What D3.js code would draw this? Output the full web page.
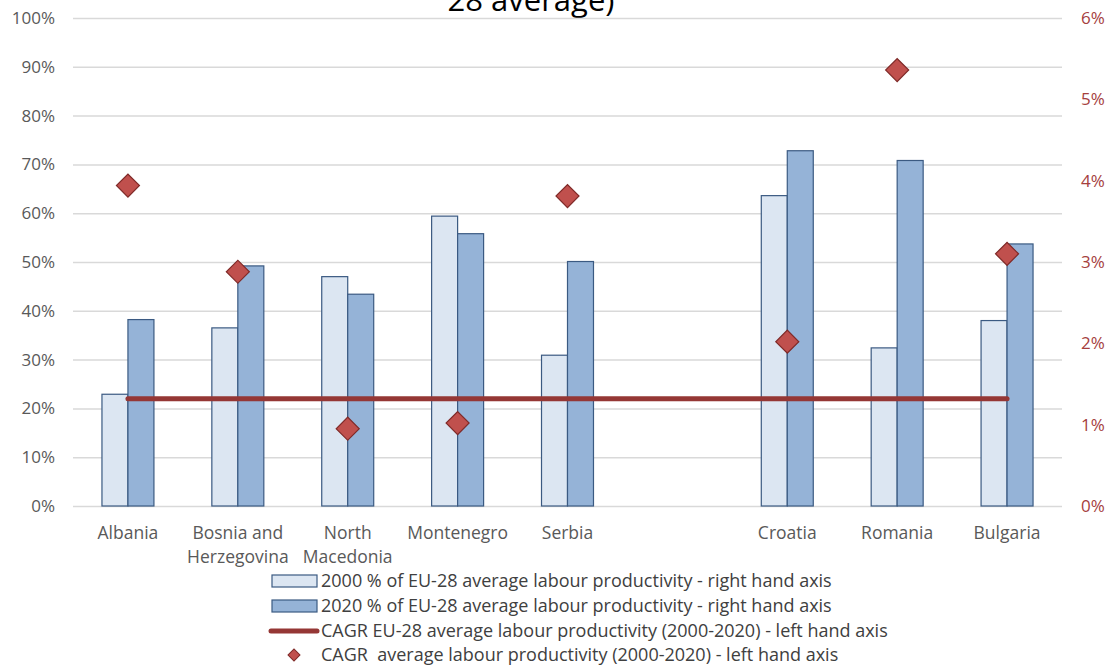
<!DOCTYPE html>
<html>
<head>
<meta charset="utf-8">
<script src="https://cdn.jsdelivr.net/npm/d3@7/dist/d3.min.js"></script>
<style>
  html, body { margin: 0; padding: 0; background: #fff; }
  svg { display: block; font-family: "Open Sans", "Liberation Sans", sans-serif; }
</style>
</head>
<body>
<svg id="chart" width="1107" height="665"></svg>
<script>
// Countries (one empty slot separates the candidate countries from EU members)
const categories = ["Albania", "Bosnia and Herzegovina", "North Macedonia", "Montenegro", "Serbia", "", "Croatia", "Romania", "Bulgaria"];

// Labour productivity as share of EU-28 average
const share2000 = [0.229, 0.365, 0.470, 0.594, 0.309, null, 0.636, 0.324, 0.380];
const share2020 = [0.382, 0.492, 0.434, 0.558, 0.501, null, 0.728, 0.708, 0.537];

// Compound annual growth rate of labour productivity, 2000-2020
const cagrCountry = [0.0394, 0.0288, 0.0095, 0.0102, 0.0381, null, 0.0202, 0.0536, 0.0310];
const cagrEU28 = [0.0132, 0.0132, 0.0132, 0.0132, 0.0132, 0.0132, 0.0132, 0.0132, 0.0132];

const leftTicks = [0, 0.1, 0.2, 0.3, 0.4, 0.5, 0.6, 0.7, 0.8, 0.9, 1.0];
const rightTicks = [0, 0.01, 0.02, 0.03, 0.04, 0.05, 0.06];

const legendLabels = [
  "2000 % of EU-28 average labour productivity - right hand axis",
  "2020 % of EU-28 average labour productivity - right hand axis",
  "CAGR EU-28 average labour productivity (2000-2020) - left hand axis",
  "CAGR  average labour productivity (2000-2020) - left hand axis"
];

const colors = {
  fill2000: "#DCE6F2", fill2020: "#95B3D7", barStroke: "#3B5A82",
  line: "#953735", diamond: "#C0504D", diamondStroke: "#7F2A28",
  grid: "#D9D9D9", leftText: "#595959", rightText: "#A5403D", text: "#404040"
};

const svg = d3.select("#chart");
const plot = { left: 73, right: 1062, top: 18, bottom: 506 };

const x = d3.scaleBand().domain(d3.range(categories.length))
  .range([plot.left, plot.right]).paddingInner(0.527).paddingOuter(0.2635);
const xSeries = d3.scaleBand().domain([0, 1]).range([0, x.bandwidth()]);
const xCenter = i => x(i) + x.bandwidth() / 2;

const yLeft = d3.scaleLinear().domain([0, 1]).range([plot.bottom, plot.top]);
const yRight = d3.scaleLinear().domain([0, 0.06]).range([plot.bottom, plot.top]);

// Title (second line)
svg.append("text")
  .attr("x", 531).attr("y", 11)
  .attr("text-anchor", "middle")
  .attr("font-size", 31).attr("fill", "#000")
  .text("28 average)");

// Gridlines + left axis
const leftAxis = svg.append("g")
  .attr("transform", `translate(${plot.left},0)`)
  .call(d3.axisLeft(yLeft).tickValues(leftTicks).tickFormat(d3.format(".0%"))
    .tickSize(-(plot.right - plot.left)).tickPadding(18));
leftAxis.select(".domain").remove();
leftAxis.selectAll(".tick line").attr("stroke", colors.grid).attr("stroke-width", 1.5);
leftAxis.selectAll(".tick text").attr("fill", colors.leftText)
  .attr("font-size", 17).attr("font-family", "Open Sans, sans-serif");

// Right axis
const rightAxis = svg.append("g")
  .attr("transform", `translate(${plot.right},0)`)
  .call(d3.axisRight(yRight).tickValues(rightTicks).tickFormat(d3.format(".0%"))
    .tickSize(0).tickPadding(19));
rightAxis.select(".domain").remove();
rightAxis.selectAll(".tick text").attr("fill", colors.rightText)
  .attr("font-size", 17).attr("font-family", "Open Sans, sans-serif");

// Bars
const barData = [];
categories.forEach((c, i) => {
  if (share2000[i] != null) barData.push({ i, s: 0, v: share2000[i] });
  if (share2020[i] != null) barData.push({ i, s: 1, v: share2020[i] });
});
svg.append("g").selectAll("rect").data(barData).join("rect")
  .attr("x", d => x(d.i) + xSeries(d.s))
  .attr("y", d => yLeft(d.v))
  .attr("width", xSeries.bandwidth())
  .attr("height", d => plot.bottom - yLeft(d.v))
  .attr("fill", d => d.s === 0 ? colors.fill2000 : colors.fill2020)
  .attr("stroke", colors.barStroke).attr("stroke-width", 1.2);

// EU-28 CAGR line
svg.append("path")
  .datum(cagrEU28)
  .attr("fill", "none").attr("stroke", colors.line)
  .attr("stroke-width", 5).attr("stroke-linecap", "round")
  .attr("d", d3.line().x((d, i) => xCenter(i)).y(d => yRight(d)));

// Country CAGR diamonds
const diamond = d3.symbol().type(d3.symbolSquare).size(265);
svg.append("g").selectAll("path")
  .data(cagrCountry.map((v, i) => ({ i, v })).filter(d => d.v != null))
  .join("path")
  .attr("d", diamond)
  .attr("transform", d => `translate(${xCenter(d.i)},${yRight(d.v)}) rotate(45)`)
  .attr("fill", colors.diamond).attr("stroke", colors.diamondStroke).attr("stroke-width", 1.2);

// Category labels, wrapped to the slot width
const labelG = svg.append("g").attr("font-size", 17.5).attr("fill", colors.leftText)
  .attr("text-anchor", "middle");
categories.forEach((c, i) => {
  if (!c) return;
  const words = c.split(" ");
  const lines = [];
  let cur = "";
  words.forEach(w => {
    const trial = cur ? cur + " " + w : w;
    if (trial.length > 11 && cur) { lines.push(cur); cur = w; } else cur = trial;
  });
  lines.push(cur);
  const t = labelG.append("text").attr("x", xCenter(i)).attr("y", 539);
  lines.forEach((l, k) => t.append("tspan").attr("x", xCenter(i)).attr("dy", k ? 24 : 0).text(l));
});

// Legend
const legend = svg.append("g").attr("font-size", 18).attr("fill", colors.text);
const rowY = [581, 606, 631, 655];
legend.append("rect").attr("x", 272).attr("y", rowY[0] - 6).attr("width", 45).attr("height", 12)
  .attr("fill", colors.fill2000).attr("stroke", colors.barStroke).attr("stroke-width", 1.2);
legend.append("rect").attr("x", 272).attr("y", rowY[1] - 6).attr("width", 45).attr("height", 12)
  .attr("fill", colors.fill2020).attr("stroke", colors.barStroke).attr("stroke-width", 1.2);
legend.append("line").attr("x1", 271).attr("x2", 317).attr("y1", rowY[2]).attr("y2", rowY[2])
  .attr("stroke", colors.line).attr("stroke-width", 5).attr("stroke-linecap", "round");
legend.append("path").attr("d", d3.symbol().type(d3.symbolSquare).size(72))
  .attr("transform", `translate(294,${rowY[3]}) rotate(45)`)
  .attr("fill", colors.diamond).attr("stroke", colors.diamondStroke).attr("stroke-width", 1);
legendLabels.forEach((l, k) => {
  legend.append("text").attr("x", 321).attr("y", rowY[k]).attr("dy", "0.35em")
    .attr("xml:space", "preserve").style("white-space", "pre").text(l);
});
</script>
</body>
</html>
